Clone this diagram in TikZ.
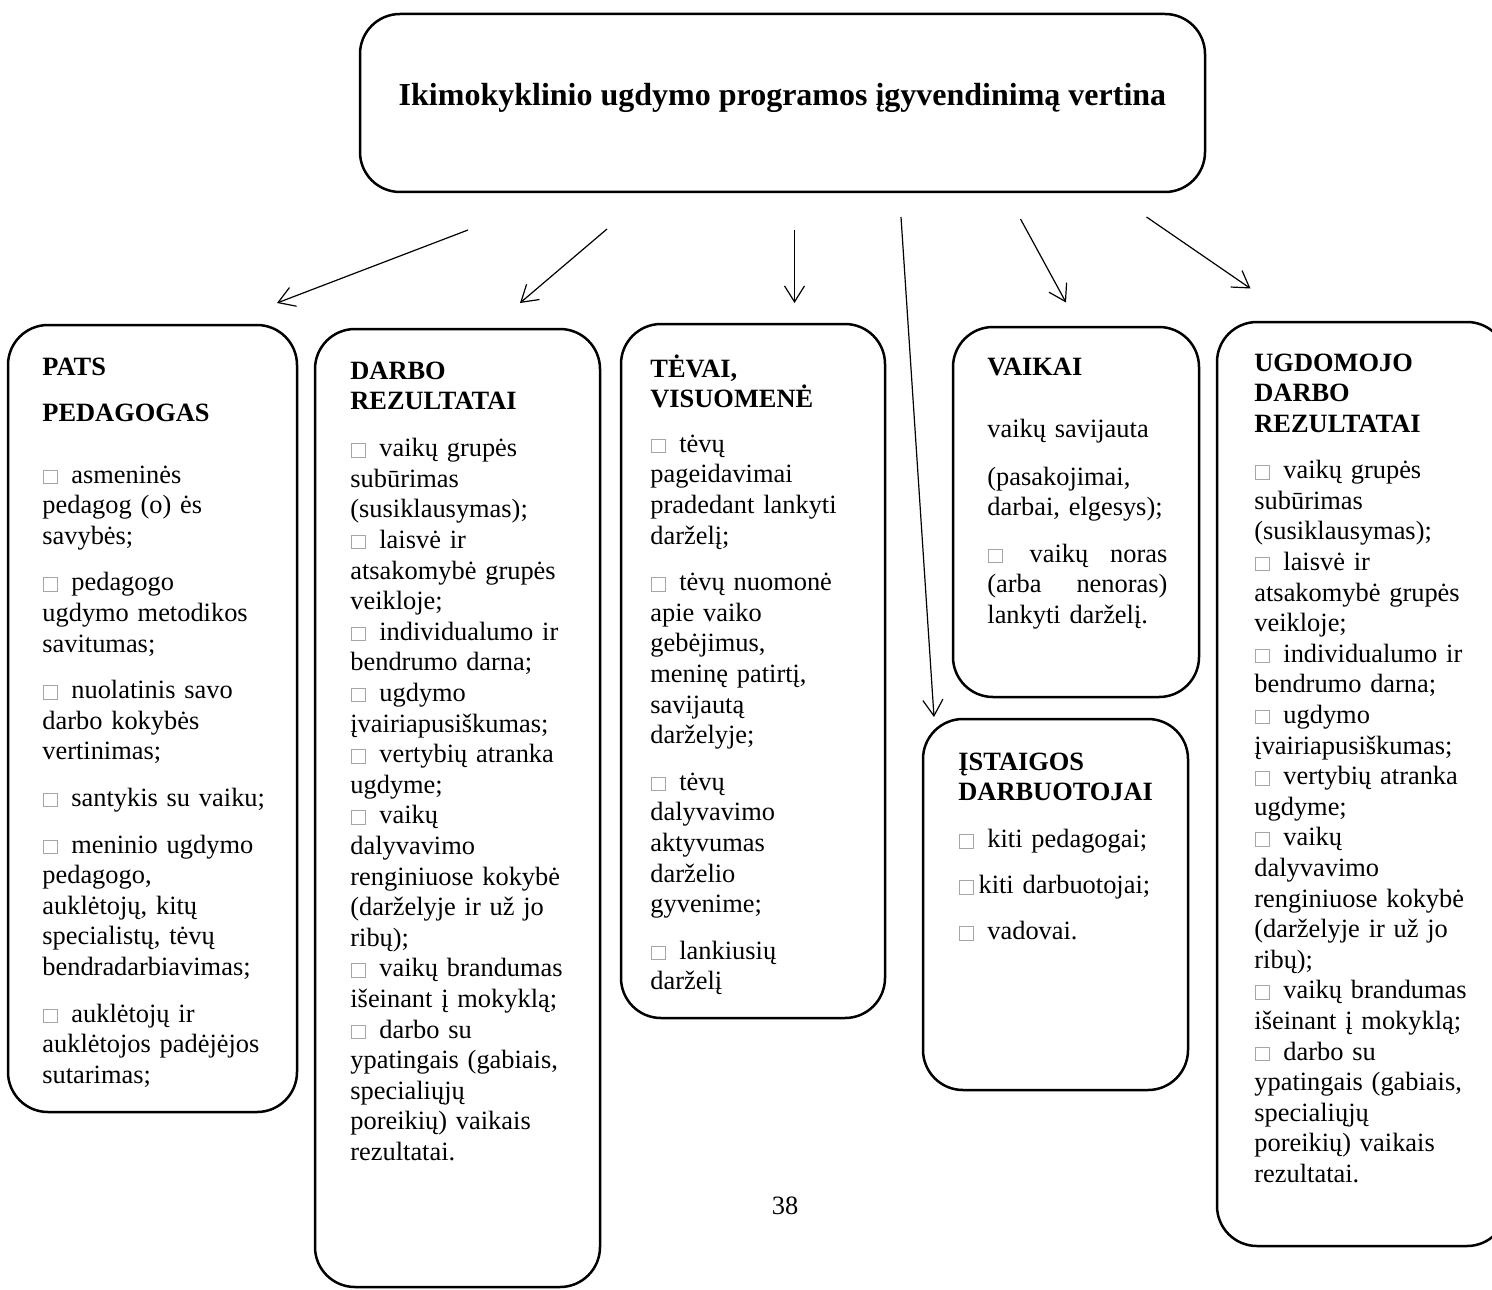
\documentclass[tikz,border=0pt]{standalone}
\usepackage{fontspec}
\setmainfont{Liberation Serif}
\usetikzlibrary{arrows.meta}
\newcommand\bx{{\color{black!35}\setlength\fboxsep{0pt}\setlength\fboxrule{0.4pt}\hspace{0.5pt}\fbox{\rule{0pt}{6.3pt}\rule{6.3pt}{0pt}}\hspace{2.5pt}}}
\begin{document}
\begin{tikzpicture}[x=0.5pt,y=-0.5pt,
  box/.style={draw, line width=1.25pt, rounded corners=20pt, anchor=north west, inner sep=0pt, outer sep=0pt},
  txt/.style={anchor=base west, inner sep=0pt, text width=160pt, align=left, font=\fontsize{13.2}{15.3}\selectfont},
  arr/.style={-{Straight Barb[length=8pt,width=10pt]}, line width=0.6pt}]
\useasboundingbox (0,0) rectangle (1492,1289);

% boxes
\node[box, minimum width=422.5pt, minimum height=89pt] (top) at (360,14) {};
\node[box, minimum width=144.5pt, minimum height=393.5pt] (b1) at (8,325) {};
\node[box, minimum width=142.5pt, minimum height=479pt] (b2) at (315,329) {};
\node[box, minimum width=132pt, minimum height=347pt] (b3) at (621,324) {};
\node[box, minimum width=123pt, minimum height=185pt] (b4) at (953,327) {};
\node[box, minimum width=132.5pt, minimum height=185.5pt] (b5) at (923,719) {};
\node[box, minimum width=145pt, minimum height=462pt] (b6) at (1217,322) {};

% title
\node[anchor=base, inner sep=0pt, font=\fontsize{16}{18}\selectfont\bfseries] (title) at (782.5,106) {Ikimokyklinio ugdymo programos įgyvendinimą vertina};

% box texts
\node[txt] (t1) at (42,375) {\textbf{PATS}\\[7.7pt]
\textbf{PEDAGOGAS}\\[15.7pt]
\bx\ asmeninės\\ pedagog (o) ės\\ savybės;\\[8pt]
\bx\ pedagogo\\ ugdymo metodikos\\ savitumas;\\[8pt]
\bx\ nuolatinis savo\\ darbo kokybės\\ vertinimas;\\[8pt]
\bx\ santykis su vaiku;\\[8pt]
\bx\ meninio ugdymo\\ pedagogo,\\ auklėtojų, kitų\\ specialistų, tėvų\\ bendradarbiavimas;\\[8pt]
\bx\ auklėtojų ir\\ auklėtojos padėjėjos\\ sutarimas;};

\node[txt] (t2) at (350,379) {\textbf{DARBO}\\ \textbf{REZULTATAI}\\[8.2pt]
\bx\ vaikų grupės\\ subūrimas\\ (susiklausymas);\\ \bx\ laisvė ir\\ atsakomybė grupės\\ veikloje;\\ \bx\ individualumo ir\\ bendrumo darna;\\ \bx\ ugdymo\\ įvairiapusiškumas;\\ \bx\ vertybių atranka\\ ugdyme;\\ \bx\ vaikų\\ dalyvavimo\\ renginiuose kokybė\\ (darželyje ir už jo\\ ribų);\\ \bx\ vaikų brandumas\\ išeinant į mokyklą;\\ \bx\ darbo su\\ ypatingais (gabiais,\\ specialiųjų\\ poreikių) vaikais\\ rezultatai.};

\node[txt] (t3) at (650,377) {\textbf{TĖVAI,}\\ \textbf{VISUOMENĖ}\\[7pt]
\bx\ tėvų\\ pageidavimai\\ pradedant lankyti\\ darželį;\\[8pt]
\bx\ tėvų nuomonė\\ apie vaiko\\ gebėjimus,\\ meninę patirtį,\\ savijautą\\ darželyje;\\[8pt]
\bx\ tėvų\\ dalyvavimo\\ aktyvumas\\ darželio\\ gyvenime;\\[8pt]
\bx\ lankiusių\\ darželį};

\node[txt] (t4) at (987,375) {\textbf{VAIKAI}\\[15.7pt]
vaikų savijauta\\[8.7pt]
(pasakojimai,\\ darbai, elgesys);\\[8pt]
\makebox[90pt][l]{\bx\hfill vaikų\hfill noras}\\ \makebox[90pt][l]{(arba\hfill nenoras)}\\ lankyti darželį.};

\node[txt] (t5) at (958,770) {\textbf{ĮSTAIGOS}\\ \textbf{DARBUOTOJAI}\\[8.2pt]
\bx\ kiti pedagogai;\\[7.7pt]
\bx kiti darbuotojai;\\[7.7pt]
\bx\ vadovai.};

\node[txt] (t6) at (1254,371) {\textbf{UGDOMOJO}\\ \textbf{DARBO}\\ \textbf{REZULTATAI}\\[7.9pt]
\bx\ vaikų grupės\\ subūrimas\\ (susiklausymas);\\ \bx\ laisvė ir\\ atsakomybė grupės\\ veikloje;\\ \bx\ individualumo ir\\ bendrumo darna;\\ \bx\ ugdymo\\ įvairiapusiškumas;\\ \bx\ vertybių atranka\\ ugdyme;\\ \bx\ vaikų\\ dalyvavimo\\ renginiuose kokybė\\ (darželyje ir už jo\\ ribų);\\ \bx\ vaikų brandumas\\ išeinant į mokyklą;\\ \bx\ darbo su\\ ypatingais (gabiais,\\ specialiųjų\\ poreikių) vaikais\\ rezultatai.};

% page number
\node[anchor=base, inner sep=0pt, font=\fontsize{13.2}{15.3}\selectfont] (pg) at (785,1214) {38};

% arrows
\coordinate (a1s) at (468,230); \coordinate (a1e) at (277,303);
\coordinate (a2s) at (607,229); \coordinate (a2e) at (520,303);
\coordinate (a3s) at (794.5,230); \coordinate (a3e) at (794.5,303);
\coordinate (a4s) at (901,217); \coordinate (a4e) at (934,717);
\coordinate (a5s) at (1020.5,219); \coordinate (a5e) at (1066,302.5);
\coordinate (a6s) at (1146.5,217); \coordinate (a6e) at (1250.5,288.5);
\draw[arr] (a1s) -- (a1e);
\draw[arr] (a2s) -- (a2e);
\draw[arr] (a3s) -- (a3e);
\draw[arr] (a4s) -- (a4e);
\draw[arr] (a5s) -- (a5e);
\draw[arr] (a6s) -- (a6e);
\end{tikzpicture}
\end{document}
